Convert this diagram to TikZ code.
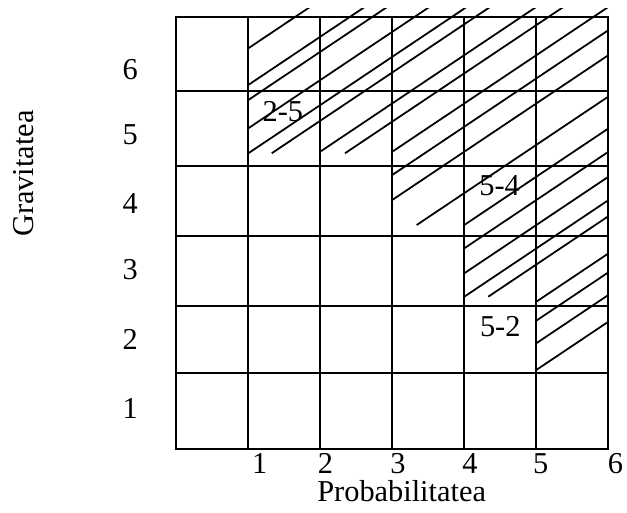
\documentclass[tikz,border=0pt]{standalone}
\usepackage{fontspec}
\setmainfont{Liberation Serif}
\usetikzlibrary{positioning}

\begin{document}
\begin{tikzpicture}[every node/.style={font=\fontsize{12}{14}\selectfont, inner sep=0pt}]
  \tikzstyle{GridStyle}=[line width=0.8pt, line cap=rect]
  \tikzstyle{HatchStyle}=[line width=0.7pt]
  \useasboundingbox (-2.449,-0.885) rectangle (6.26,6.24);

  \foreach \y in {0,1.056,1.99,2.96,3.94,4.98,6}
    \draw[GridStyle] (0,\y) -- (6,\y);
  \foreach \x in {0,...,6}
    \draw[GridStyle] (\x,0) -- (\x,6);

  \begin{scope}
    \clip (0,0) rectangle (6,6.125);
    \foreach \x/\y in {1/5.569, 1/5.06, 1/4.851, 1/4.458, 1/4.111, 1.325/4.111,
                       2/4.134, 2.343/4.111, 3/4.133, 3/3.81, 3/3.463, 3.339/3.115,
                       4/3.115, 4/2.791, 4/2.444, 4/2.119, 4.333/2.119,
                       5/2.049, 5/1.786, 5/1.472, 5/1.101}
      \draw[HatchStyle] (\x,\y) -- ++(6,4.02);
  \end{scope}

  \foreach \n/\x in {1/1.16,2/2.07,3/3.08,4/4.08,5/5.06,6/6.1}
    \node[anchor=base] (prob\n) at (\x,-0.33) {\n};
  \foreach \n/\y in {1/0.43,2/1.379,3/2.351,4/3.278,5/4.226,6/5.139}
    \node[anchor=base] (grav\n) at (-0.64,\y) {\n};

  \node[anchor=base] (prob) at (3.13,-0.72) {Probabilitatea};
  \node[anchor=base, rotate=90] (grav) at (-1.99,3.83) {Gravitatea};

  \node[anchor=base] (r25) at (1.48,4.55) {2-5};
  \node[anchor=base] (r54) at (4.49,3.52) {5-4};
  \node[anchor=base] (r52) at (4.50,1.564) {5-2};
\end{tikzpicture}
\end{document}
